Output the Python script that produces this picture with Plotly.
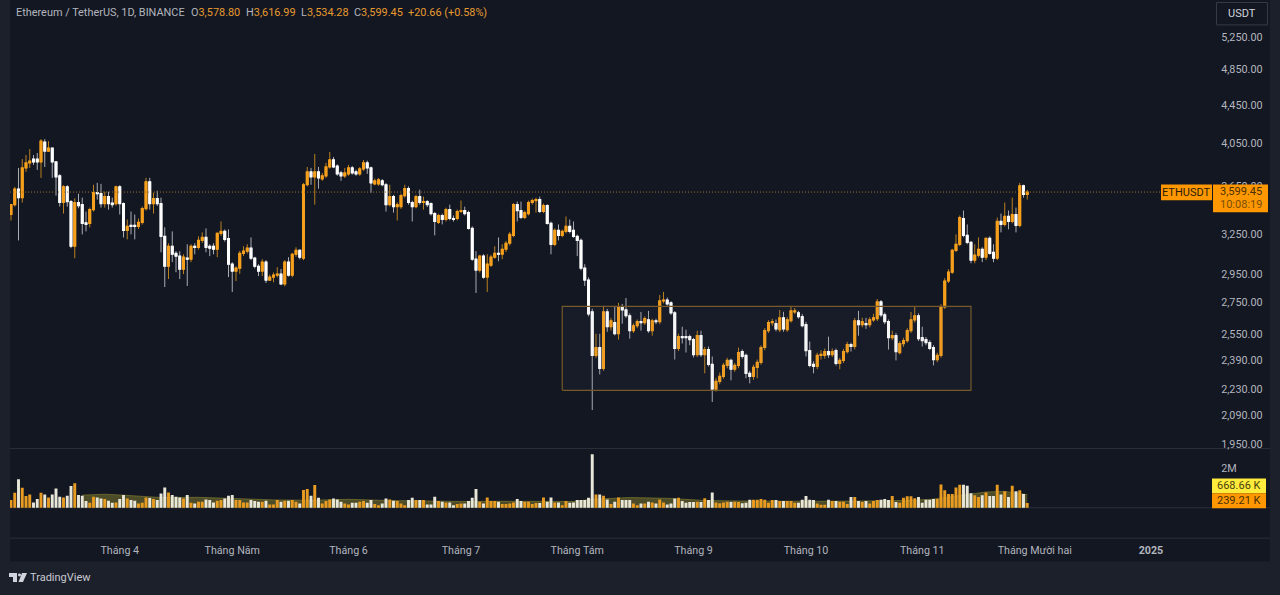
import pandas as pd
import plotly.graph_objects as go

W, H = 1280, 595
START = "2024-03-03"

opens = [3408,3491,3626,3551,3817,3864,3900,3900,3873,4064,
3977,4006,3873,3744,3509,3646,3516,3155,3509,3491,
3340,3335,3449,3594,3585,3500,3560,3505,3500,3646,
3500,3279,3319,3319,3311,3343,3458,3690,3500,3543,
3500,3232,3005,3155,3101,3080,2984,3065,3057,3155,
3147,3200,3223,3155,3155,3132,3255,3271,3215,3020,
2970,2991,3101,3117,3140,3065,3005,2970,3035,2906,
2927,2941,2948,2878,3035,2941,3094,3124,3065,3664,
3780,3735,3780,3717,3744,3826,3892,3835,3771,3744,
3762,3817,3780,3762,3808,3864,3817,3672,3672,3699,
3664,3491,3560,3474,3474,3568,3629,3509,3474,3560,
3509,3517,3500,3416,3343,3400,3367,3449,3375,3375,
3433,3441,3424,3295,3057,2977,3080,2927,3013,3072,
3101,3094,3132,3178,3240,3491,3441,3384,3416,3509,
3526,3534,3433,3483,3335,3170,3279,3240,3271,3311,
3279,3232,3200,2991,2906,2690,2419,2466,2344,2689,
2594,2620,2550,2722,2702,2664,2569,2600,2626,2620,
2638,2569,2632,2626,2762,2768,2749,2683,2460,2532,
2532,2532,2514,2424,2538,2424,2454,2367,2228,2271,
2299,2361,2390,2339,2361,2442,2419,2316,2299,2350,
2378,2466,2569,2620,2613,2575,2651,2575,2632,2689,
2683,2658,2607,2448,2367,2355,2419,2419,2442,2424,
2448,2372,2390,2442,2484,2472,2632,2607,2613,2607,
2638,2645,2755,2670,2626,2526,2538,2436,2490,2508,
2569,2638,2664,2526,2514,2496,2466,2395,2419,2722,
2899,2962,3124,3170,3375,3240,3185,3050,3087,3132,
3072,3216,3109,3065,3351,3327,3392,3351,3408,3319,3655,3578.80]

closes = [3491,3626,3551,3817,3864,3882,3873,3873,4074,3977,
4006,3873,3735,3509,3646,3516,3155,3509,3483,3335,
3327,3449,3594,3585,3500,3560,3500,3491,3646,3500,
3279,3311,3311,3311,3343,3458,3690,3500,3543,3500,
3232,3005,3155,3094,3080,2984,3072,3057,3155,3147,
3200,3223,3147,3140,3132,3255,3271,3208,3020,2970,
2991,3101,3117,3140,3065,3005,2970,3035,2906,2927,
2941,2948,2878,3035,2941,3094,3124,3072,3664,3780,
3735,3780,3726,3744,3826,3892,3826,3762,3744,3771,
3817,3771,3762,3808,3864,3817,3681,3699,3708,3664,
3491,3560,3474,3491,3568,3629,3509,3474,3560,3509,
3517,3491,3416,3351,3400,3367,3449,3375,3367,3433,
3441,3416,3295,3057,2977,3080,2927,3020,3072,3101,
3094,3132,3178,3247,3491,3441,3384,3424,3509,3526,
3534,3433,3483,3335,3170,3279,3240,3271,3311,3271,
3232,3200,2991,2906,2676,2419,2466,2344,2689,2594,
2632,2550,2722,2702,2664,2569,2600,2626,2620,2645,
2569,2632,2626,2762,2768,2742,2683,2460,2532,2526,
2526,2514,2424,2538,2424,2454,2367,2228,2271,2299,
2361,2390,2339,2361,2436,2413,2316,2299,2350,2378,
2466,2569,2620,2626,2581,2651,2581,2638,2696,2696,
2658,2600,2448,2361,2355,2419,2425,2442,2424,2442,
2372,2390,2442,2484,2472,2632,2607,2626,2607,2638,
2651,2755,2670,2626,2526,2538,2442,2490,2508,2569,
2638,2664,2520,2508,2496,2460,2395,2419,2722,2899,
2962,3124,3170,3383,3240,3185,3050,3087,3132,3072,
3216,3101,3065,3351,3327,3392,3351,3408,3319,3655,3578.80,3599.45]

highs = [3491,3645,3817,3900,3939,3996,3939,3958,4094,4094,
4074,4006,3882,3760,3660,3660,3530,3545,3585,3551,
3433,3466,3664,3681,3672,3603,3603,3551,3655,3660,
3509,3367,3433,3408,3375,3475,3726,3726,3594,3611,
3551,3303,3178,3271,3117,3117,3094,3170,3170,3178,
3232,3263,3295,3170,3178,3263,3351,3287,3287,3035,
3005,3120,3155,3170,3223,3075,3020,3057,3050,2945,
2960,2998,2985,3050,3072,3105,3147,3132,3680,3826,
3817,3949,3826,3770,3864,3968,3920,3850,3790,3817,
3845,3835,3800,3825,3892,3885,3830,3720,3725,3715,
3680,3664,3575,3510,3585,3664,3650,3525,3575,3620,
3560,3530,3510,3430,3415,3415,3465,3491,3400,3450,
3526,3474,3440,3311,3117,3090,3095,3094,3090,3155,
3223,3170,3195,3265,3505,3517,3517,3440,3525,3543,
3550,3560,3500,3495,3350,3295,3327,3285,3392,3367,
3351,3245,3215,3020,2925,2710,2550,2550,2729,2709,
2650,2729,2749,2742,2782,2680,2615,2640,2689,2660,
2696,2645,2645,2802,2823,2785,2760,2695,2550,2594,
2575,2545,2525,2569,2569,2470,2472,2413,2290,2320,
2375,2405,2400,2375,2466,2455,2430,2330,2365,2395,
2480,2585,2635,2645,2640,2702,2690,2655,2729,2715,
2696,2676,2625,2502,2385,2435,2450,2460,2532,2460,
2460,2405,2458,2500,2495,2650,2696,2651,2651,2655,
2676,2775,2768,2685,2640,2569,2555,2505,2525,2585,
2689,2722,2680,2594,2530,2510,2480,2435,2740,2920,
2984,3135,3247,3400,3441,3327,3195,3170,3223,3147,
3223,3232,3170,3383,3416,3509,3441,3551,3466,3681,3665,3616.99]

lows = [3359,3474,3200,3508,3780,3817,3845,3799,3726,3826,
3968,3726,3568,3474,3416,3474,3140,3064,3460,3247,
3271,3303,3433,3534,3466,3466,3449,3466,3483,3408,
3223,3208,3247,3208,3290,3325,3440,3449,3416,3480,
3109,2857,2913,3035,2962,2913,2948,2864,3035,3094,
3130,3180,3109,3080,3094,3072,3235,3190,2927,2823,
2899,2950,3080,3100,3050,2990,2934,2934,2885,2899,
2890,2925,2870,2862,2930,2925,3075,3055,3050,3650,
3664,3491,3629,3700,3725,3810,3815,3745,3699,3725,
3745,3755,3745,3745,3790,3762,3594,3660,3655,3650,
3433,3475,3424,3359,3455,3550,3490,3351,3460,3490,
3449,3470,3400,3240,3330,3327,3350,3360,3350,3360,
3420,3400,3285,3045,2816,2960,2915,2823,3000,3060,
3042,3057,3110,3160,3225,3351,3370,3370,3400,3490,
3424,3420,3420,3325,3094,3155,3200,3225,3255,3255,
3220,3080,2975,2864,2660,2118,2405,2310,2330,2562,
2570,2540,2514,2613,2650,2520,2555,2585,2569,2605,
2556,2538,2610,2610,2745,2730,2670,2395,2445,2490,
2436,2480,2407,2410,2410,2316,2355,2160,2215,2255,
2285,2345,2277,2325,2345,2400,2288,2260,2280,2288,
2365,2450,2555,2600,2565,2560,2562,2562,2620,2675,
2645,2590,2413,2350,2316,2340,2395,2400,2405,2410,
2360,2339,2375,2430,2442,2455,2538,2590,2581,2590,
2625,2630,2655,2610,2454,2510,2390,2425,2470,2495,
2555,2620,2505,2472,2480,2450,2361,2380,2405,2709,
2885,2950,3110,3155,3225,3170,3027,3027,3070,3035,
3050,3090,3035,3050,3263,3310,3287,3335,3263,3303,3551,3534.28]

volumes_k = [390,765,1445,1020,595,680,270,440,765,680,
525,680,985,560,525,610,1105,1240,645,610,
340,255,560,525,475,440,355,255,270,440,
645,475,390,355,220,255,525,495,440,390,
730,1035,780,645,560,525,475,645,255,220,
305,305,425,390,270,355,390,475,610,645,
390,390,270,270,390,340,305,305,355,170,
170,390,305,355,355,390,305,220,900,950,
610,1155,510,220,340,425,475,425,
305,220,170,255,255,305,340,255,390,190,
135,220,475,425,355,340,220,135,390,510,
390,390,390,170,170,560,340,305,270,270,
135,190,220,220,340,510,950,305,220,525,
340,340,305,190,190,220,270,440,340,305,
305,190,240,240,525,305,525,270,270,135,
340,255,270,390,390,390,510,2720,680,680,
610,425,190,305,525,390,390,390,220,135,
220,220,305,270,220,425,270,170,220,475,
510,350,250,290,290,310,290,480,400,775,
270,230,270,310,290,310,290,230,
250,410,410,410,445,410,250,390,390,350,
350,350,350,250,250,410,600,410,390,215,
155,155,410,350,350,310,310,195,545,545,
350,290,350,215,350,390,410,445,390,600,
290,250,505,580,580,485,545,250,410,410,
445,445,
1185,890,700,700,1030,1165,1165,1125,735,640,
545,640,775,600,600,1165,680,835,545,1125,
835,890,700,239.21]

ma_days = [19,25,30,40,50,60,70,80,90,100,110,120,130,140,150,155,165,175,185,195,205,215,225,235,245,250,255,260,265,271]
ma_k = [640,690,640,520,530,470,400,380,430,370,330,320,330,320,320,430,520,480,370,340,320,330,340,360,420,550,700,800,830,668.66]

price_ticks = [5250,4850,4450,4050,3650,3250,2950,2750,2550,2390,2230,2090,1950]
month_ticks = ["2024-04-01","2024-05-01","2024-06-01","2024-07-01","2024-08-01","2024-09-01","2024-10-01","2024-11-01","2024-12-01","2025-01-01"]
month_labels = ["Tháng 4","Tháng Năm","Tháng 6","Tháng 7","Tháng Tám","Tháng 9","Tháng 10","Tháng 11","Tháng Mười hai","<b>2025</b>"]
box_x = ["2024-07-28","2024-11-14"]
box_y = [2222,2725]

assert all(len(a) == 272 for a in (opens, closes, highs, lows, volumes_k)), [len(a) for a in (opens, closes, highs, lows, volumes_k)]

ORANGE = "#f7a01d"
WHITE = "#ffffff"
ORANGE_WICK = "#b9801f"
WHITE_WICK = "#a9acb3"
OUTER = "#1c202b"
PANEL = "#131722"
GRID = "#2a2e39"
TXT = "#b2b5be"
FONT = "Roboto"

dates = pd.date_range(START, periods=len(opens), freq="D")
body_top = [max(o, c) for o, c in zip(opens, closes)]
body_bot = [min(o, c) for o, c in zip(opens, closes)]

def px(x): return x / W
def py(y): return 1 - y / H

fig = go.Figure()

# consolidation box
fig.add_trace(go.Scatter(
    x=[box_x[0], box_x[1], box_x[1], box_x[0], box_x[0]],
    y=[box_y[0], box_y[0], box_y[1], box_y[1], box_y[0]],
    mode="lines", fill="toself", fillcolor="rgba(120,123,134,0.06)",
    line=dict(color="#75592b", width=1.2), hoverinfo="skip", xaxis="x", yaxis="y"))

# last price line
fig.add_trace(go.Scatter(
    x=[dates[0] - pd.Timedelta(hours=6), "2025-01-17"], y=[closes[-1], closes[-1]],
    mode="lines", line=dict(color="#a4702a", width=1, dash="1px 2px"),
    hoverinfo="skip", xaxis="x", yaxis="y"))

# wicks: muted full-range candles
fig.add_trace(go.Candlestick(
    x=dates, open=opens, high=highs, low=lows, close=closes,
    increasing=dict(line=dict(color=ORANGE_WICK, width=1), fillcolor=ORANGE_WICK),
    decreasing=dict(line=dict(color=WHITE_WICK, width=1), fillcolor=WHITE_WICK),
    whiskerwidth=0, xaxis="x", yaxis="y", hoverinfo="skip"))

# bright candle bodies
fig.add_trace(go.Candlestick(
    x=dates, open=opens, high=body_top, low=body_bot, close=closes,
    increasing=dict(line=dict(color=ORANGE, width=1.2), fillcolor=ORANGE),
    decreasing=dict(line=dict(color=WHITE, width=1.2), fillcolor=WHITE),
    whiskerwidth=0, xaxis="x", yaxis="y", hoverinfo="skip"))

# volume moving average, under the bars
fig.add_trace(go.Scatter(
    x=[dates[i] for i in ma_days], y=ma_k, mode="lines", fill="tozeroy",
    fillcolor="rgba(125,120,45,0.55)", line=dict(color="rgba(125,120,45,0.7)", width=1),
    hoverinfo="skip", xaxis="x", yaxis="y2"))

fig.add_trace(go.Bar(
    x=dates, y=volumes_k,
    marker=dict(color=["#e99c22" if c >= o else "#e9e7da" for o, c in zip(opens, closes)], line_width=0),
    hoverinfo="skip", xaxis="x", yaxis="y3"))

shapes = [
    dict(type="rect", xref="paper", yref="paper", x0=px(10), x1=px(1270), y0=py(563.5), y1=py(0),
         fillcolor=PANEL, line_width=0, layer="below"),
    dict(type="line", xref="paper", yref="paper", x0=px(10), x1=px(1270), y0=py(450), y1=py(450),
         line=dict(color=GRID, width=1), layer="below"),
    dict(type="line", xref="paper", yref="paper", x0=px(10), x1=px(1270), y0=py(540), y1=py(540),
         line=dict(color=GRID, width=1), layer="below"),
    dict(type="line", xref="paper", yref="paper", x0=px(10), x1=px(1270), y0=py(509.5), y1=py(509.5),
         line=dict(color=GRID, width=1), layer="below"),
    # USDT button
    dict(type="rect", xref="paper", yref="paper", x0=px(1216.5), x1=px(1267.5), y0=py(25), y1=py(2.5),
         fillcolor=PANEL, line=dict(color="#363a45", width=1)),
    # price tags
    dict(type="rect", xref="paper", yref="paper", x0=px(1161), x1=px(1212), y0=py(201), y1=py(185),
         fillcolor="#ff9800", line_width=0),
    dict(type="rect", xref="paper", yref="paper", x0=px(1213), x1=px(1268), y0=py(213), y1=py(185),
         fillcolor="#ff9800", line_width=0),
    dict(type="rect", xref="paper", yref="paper", x0=px(1212), x1=px(1266), y0=py(495), y1=py(480),
         fillcolor="#ffeb3b", line_width=0),
    dict(type="rect", xref="paper", yref="paper", x0=px(1212), x1=px(1266), y0=py(510), y1=py(495),
         fillcolor="#ff9800", line_width=0),
]

# TradingView logo
def poly(points):
    return "M " + " L ".join(f"{px(a):.5f},{py(b):.5f}" for a, b in points) + " Z"
logo_color = "#d1d4dc"
shapes += [
    dict(type="path", xref="paper", yref="paper", path=poly([(9,575),(17,575),(17,584),(13,584),(13,579),(9,579)]),
         fillcolor=logo_color, line_width=0),
    dict(type="path", xref="paper", yref="paper", path=poly([(22,575),(27,575),(23,584),(18.5,584)]),
         fillcolor=logo_color, line_width=0),
    dict(type="circle", xref="paper", yref="paper", x0=px(18), x1=px(21), y0=py(578.5), y1=py(575.5),
         fillcolor=logo_color, line_width=0),
]

def note(x, y, text, color=TXT, size=11, anchor="left", **kw):
    return dict(x=px(x), y=py(y), xref="paper", yref="paper", text=text, showarrow=False,
                xanchor=anchor, yanchor="middle", font=dict(family=FONT, size=size, color=color), **kw)

V = "#e79a2f"
annotations = [
    note(14, 13, "Ethereum / TetherUS, 1D, BINANCE", size=10.9),
    note(188.5, 13, f'O<span style="color:{V}">3,578.80</span>', size=10.9),
    note(244, 13, f'H<span style="color:{V}">3,616.99</span>', size=10.9),
    note(298.5, 13, f'L<span style="color:{V}">3,534.28</span>', size=10.9),
    note(351.5, 13, f'C<span style="color:{V}">3,599.45</span>', size=10.9),
    note(405.5, 13, "+20.66 (+0.58%)", color=V, size=10.9),
    note(1242, 14, "USDT", color="#d1d4dc", anchor="center"),
    note(1186.5, 193, "ETHUSDT", color="#2a1c05", anchor="center"),
    note(1241, 192, "3,599.45", color="#4a2f05", anchor="center"),
    note(1241, 205, "10:08:19", color="#7a4d08", anchor="center"),
    note(1239, 487.5, "668.66 K", color="#4a4210", anchor="center"),
    note(1239, 502.5, "239.21 K", color="#4a2f05", anchor="center"),
    note(28, 579.5, "TradingView", color="#c8cad2", size=11),
]

def dom_y(top, bottom): return [1 - bottom / H, 1 - top / H]

fig.update_layout(
    width=W, height=H, margin=dict(l=0, r=0, t=0, b=0),
    paper_bgcolor=OUTER, plot_bgcolor="rgba(0,0,0,0)",
    showlegend=False, bargap=0.22, font=dict(family=FONT, size=11, color=TXT),
    shapes=shapes, annotations=annotations,
    xaxis=dict(domain=[px(10), px(1212)], anchor="y2", type="date",
               range=["2024-03-02 17:36", "2025-01-17 06:30"],
               tickmode="array", tickvals=month_ticks, ticktext=month_labels, tickangle=0,
               ticks="outside", ticklen=2, tickcolor="rgba(0,0,0,0)", showgrid=False, zeroline=False,
               showline=False, rangeslider=dict(visible=False), tickfont=dict(family=FONT, size=10.7, color=TXT)),
    yaxis=dict(domain=dom_y(0, 450), anchor="x", side="right", type="log",
               range=[3.28533, 3.75913], tickmode="array", tickvals=price_ticks,
               ticktext=[f"{p:,.2f}" for p in price_ticks], ticks="outside", ticklen=6,
               tickcolor="rgba(0,0,0,0)", showgrid=False, zeroline=False, showline=False,
               tickfont=dict(family=FONT, size=10.8, color=TXT)),
    yaxis2=dict(domain=dom_y(450, 540), anchor="x", side="right", range=[-1543, 3010],
                tickmode="array", tickvals=[2000], ticktext=["2M"], ticks="outside", ticklen=6,
                tickcolor="rgba(0,0,0,0)", showgrid=False, zeroline=False, showline=False,
                tickfont=dict(family=FONT, size=10.8, color=TXT)),
    yaxis3=dict(domain=dom_y(450, 540), anchor="x", overlaying="y2", side="right", range=[-1543, 3010],
                showticklabels=False, ticks="", showgrid=False, zeroline=False, showline=False),
)

fig.write_html("out.html", config=dict(displayModeBar=False),
               post_script="document.body.style.margin='0';document.body.style.overflow='hidden';document.body.style.background='%s';" % OUTER)
